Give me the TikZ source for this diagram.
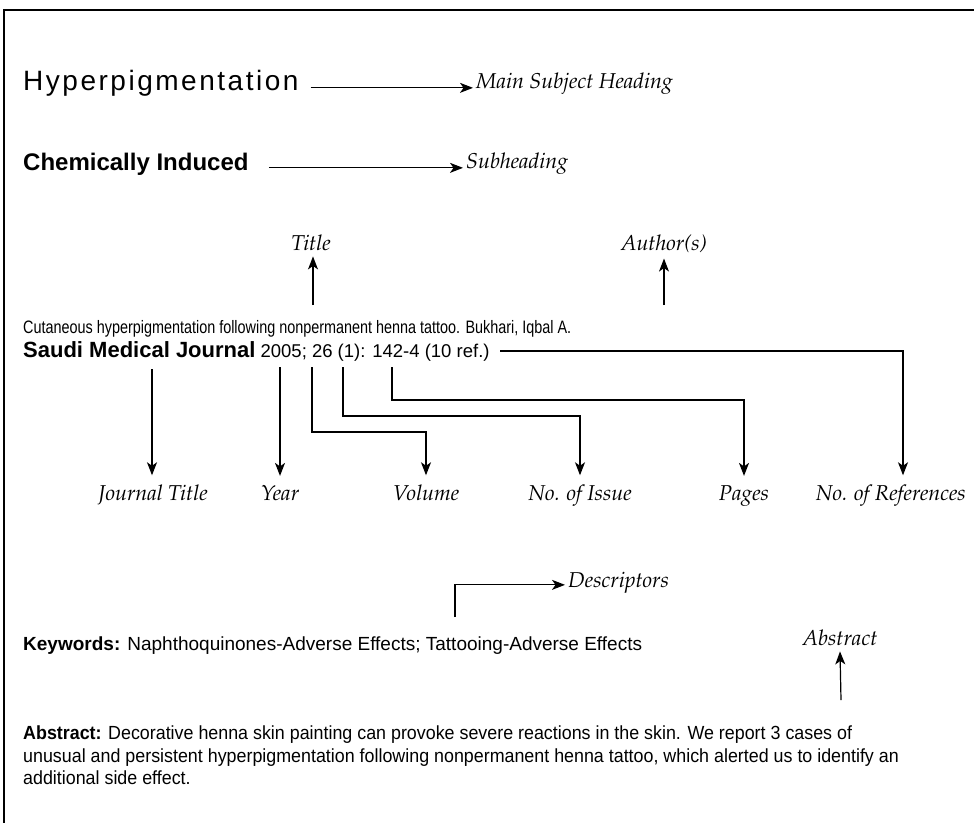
\documentclass[tikz,border=0pt]{standalone}
\usepackage[T1]{fontenc}
\usepackage{fontspec}
\setsansfont{Liberation Sans}
\usetikzlibrary{arrows.meta}
\newcommand\labfont{\fontencoding{T1}\fontfamily{ppl}\fontseries{m}\fontshape{it}\selectfont}
\begin{document}
\begin{tikzpicture}[x=1pt,y=-1pt,
  arr/.style={-{Stealth[length=13pt,width=10pt,inset=3.5pt]}, line width=1.2pt},
  lbl/.style={inner sep=0, font=\labfont\fontsize{21.5}{24}\selectfont},
  body/.style={inner sep=0, font=\sffamily\fontsize{19}{22.5}\selectfont},
  bodyA/.style={inner sep=0, font=\sffamily\fontsize{18}{20}\selectfont\addfontfeature{FakeStretch=0.8}},
  bodyC/.style={inner sep=0, font=\sffamily\fontsize{18.5}{22}\selectfont},
  bodyB/.style={inner sep=0, font=\sffamily\fontsize{19}{22.5}\selectfont\addfontfeature{FakeStretch=0.94}},
  head/.style={inner sep=0, font=\sffamily\fontsize{28}{32}\selectfont\addfontfeature{LetterSpace=9}},
  subhead/.style={inner sep=0, font=\sffamily\bfseries\fontsize{24}{27}\selectfont}]
\useasboundingbox (0,0) rectangle (974,823);
\draw[line width=1.2pt] (974,10) -- (4,10) -- (4,823);

% headings
\node[head, anchor=base west] (hyp) at (23,90) {Hyperpigmentation};
\node[lbl, anchor=base west] (msh) at (476,88) {Main Subject Heading};
\draw[arr] ([xshift=12pt]hyp.mid east) -- ([xshift=-3pt]hyp.mid east -| msh.west);

\node[subhead, anchor=base west] (chem) at (23,170) {Chemically Induced};
\node[lbl, anchor=base west] (subh) at (466,168) {Subheading};
\draw[arr] ([xshift=20pt]chem.mid east) -- ([xshift=-3pt]chem.mid east -| subh.west);

% title / author
\node[lbl, anchor=base] (title) at (311,250) {Title};
\node[lbl, anchor=base] (auth) at (664,250) {Author(s)};
\coordinate (ct) at (313,305);
\coordinate (ca) at (664,305);
\draw[arr] (ct) -- ([yshift=-6pt]ct |- title.south);
\draw[arr] (ca) -- ([yshift=-6pt]auth.south);

% citation
\node[bodyA, anchor=base west] (l1) at (23,333) {Cutaneous hyperpigmentation following nonpermanent henna tattoo. Bukhari, Iqbal A.};
\node[bodyC, anchor=base west] (l2) at (23,357) {{\bfseries\fontsize{22}{24}\selectfont Saudi Medical Journal} 2005; 26 (1): 142-4 (10 ref.)};

% bottom labels
\node[lbl, anchor=base] (jt)  at (153,500) {Journal Title};
\node[lbl, anchor=base] (yr)  at (280,500) {Year};
\node[lbl, anchor=base] (vol) at (426,500) {Volume};
\node[lbl, anchor=base] (iss) at (580,500) {No. of Issue};
\node[lbl, anchor=base] (pg)  at (744,500) {Pages};
\node[lbl, anchor=base east] (nr)  at (966,500) {No. of References};

\coordinate (tj) at (152,369);
\coordinate (ty) at (280,367);
\coordinate (tv) at (312,367);
\coordinate (ti) at (343,367);
\coordinate (tp) at (392,367);
\coordinate (tr) at (500,351);

\draw[arr] (tj) -- ([yshift=9pt]tj |- jt.north);
\draw[arr] (ty) -- ([yshift=9pt]yr.north);
\draw[arr] (tv) |- (426,432) -- ([yshift=9pt]vol.north);
\draw[arr] (ti) |- (580,416) -- ([yshift=9pt]iss.north);
\draw[arr] (tp) |- (744,400) -- ([yshift=9pt]pg.north);
\draw[arr] (tr) -| ([yshift=9pt]903,0 |- nr.north);

% keywords / descriptors
\node[body, anchor=base west] (kw) at (23,650) {\bfseries Keywords:\mdseries{} Naphthoquinones-Adverse Effects; Tattooing-Adverse Effects};
\node[lbl, anchor=base west] (desc) at (568,587) {Descriptors};
\coordinate (cd) at (455,617);
\draw[arr] (cd) |- ([xshift=-3pt]desc.mid west);

% abstract
\node[lbl, anchor=base] (abl) at (840,645) {Abstract};
\coordinate (cab) at (841,700);
\draw[arr] (cab) -- ([yshift=-6pt]abl.south);

\node[bodyB, anchor=north west, align=left] (abs) at (23,726) {\bfseries Abstract:\mdseries{} Decorative henna skin painting can provoke severe reactions in the skin. We report 3 cases of\\
unusual and persistent hyperpigmentation following nonpermanent henna tattoo, which alerted us to identify an\\
additional side effect.};
\end{tikzpicture}
\end{document}
